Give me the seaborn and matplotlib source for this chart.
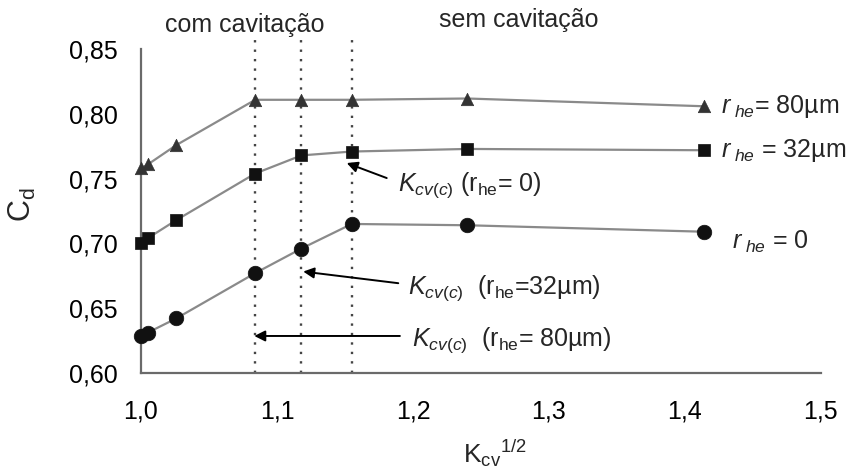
import numpy as np
import pandas as pd
import matplotlib
matplotlib.use("Agg")
import matplotlib.pyplot as plt
import seaborn as sns
from matplotlib.ticker import MultipleLocator, FuncFormatter

# ---- data ----
kcv_sqrt = [1.000, 1.005, 1.026, 1.084, 1.118, 1.155, 1.240, 1.414]
cd_r0 = [0.628, 0.631, 0.642, 0.677, 0.696, 0.715, 0.714, 0.709]
cd_r32 = [0.700, 0.704, 0.718, 0.754, 0.768, 0.771, 0.773, 0.772]
cd_r80 = [0.758, 0.761, 0.776, 0.811, 0.811, 0.811, 0.812, 0.806]
series_names = ["r0", "r32", "r80"]
kcv_crit = [1.084, 1.118, 1.155]

x_ticks = [1.0, 1.1, 1.2, 1.3, 1.4, 1.5]
y_ticks = [0.60, 0.65, 0.70, 0.75, 0.80, 0.85]

df = pd.DataFrame({
    "x": kcv_sqrt * 3,
    "y": cd_r0 + cd_r32 + cd_r80,
    "s": [series_names[0]] * 8 + [series_names[1]] * 8 + [series_names[2]] * 8,
})

sns.set_theme(style="white")
plt.rcParams["font.family"] = ["Liberation Sans", "DejaVu Sans"]
plt.rcParams["mathtext.fontset"] = "custom"
plt.rcParams["mathtext.rm"] = "Liberation Sans"
plt.rcParams["mathtext.it"] = "Liberation Sans:italic"
plt.rcParams["mathtext.bf"] = "Liberation Sans:bold"

fig = plt.figure(figsize=(8.65, 4.70), dpi=100)
ax = fig.add_axes([0.163, 0.207, 0.786, 0.688])

sns.lineplot(data=df, x="x", y="y", hue="s", palette=["#8a8a8a"] * 3,
             legend=False, ax=ax, lw=1.6, sort=True, clip_on=False)
msizes = {"r0": 110, "r32": 75, "r80": 80}
marks = {"r0": "o", "r32": "s", "r80": "^"}
mcols = {"r0": "#111111", "r32": "#111111", "r80": "#333333"}
for name in series_names:
    sub = df[df["s"] == name]
    sns.scatterplot(data=sub, x="x", y="y", marker=marks[name], s=msizes[name],
                    color=mcols[name], edgecolor=mcols[name], linewidth=0.5,
                    legend=False, ax=ax, clip_on=False, zorder=5)

ax.vlines(kcv_crit, 0.60, 0.859, colors="#444444", linestyles=(0, (1, 3)),
          lw=1.7, clip_on=False, zorder=1)

ax.set_xlim(1.0, 1.5)
ax.set_ylim(0.60, 0.85)
ax.set_xticks(x_ticks)
ax.set_yticks(y_ticks)
ax.xaxis.set_minor_locator(MultipleLocator(0.02))
ax.yaxis.set_minor_locator(MultipleLocator(0.025))
ax.xaxis.set_major_formatter(FuncFormatter(lambda v, p: f"{v:.1f}".replace(".", ",")))
ax.yaxis.set_major_formatter(FuncFormatter(lambda v, p: f"{v:.2f}".replace(".", ",")))
ax.tick_params(axis="both", which="major", direction="in", length=8, width=1.3,
               color="#666666", labelsize=18, labelcolor="black")
ax.tick_params(axis="both", which="minor", direction="in", length=4, width=1.2,
               color="#666666")
ax.tick_params(axis="x", which="major", pad=19)
ax.tick_params(axis="y", which="major", pad=17)
for s in ["top", "right"]:
    ax.spines[s].set_visible(False)
for s in ["left", "bottom"]:
    ax.spines[s].set_color("#6a6a6a")
    ax.spines[s].set_linewidth(1.6)

ax.set_xlabel(r"K$_{\mathrm{cv}}$$^{\mathrm{1/2}}$", fontsize=19)
ax.xaxis.set_label_coords(0.52, -0.20)
ax.set_ylabel(r"C$_{\mathrm{d}}$", fontsize=22)
ax.yaxis.set_label_coords(-0.151, 0.52)

fs = 18
ax.text(1.0765, 0.869, "com cavitação", ha="center", va="center", fontsize=fs, clip_on=False)
ax.text(1.278, 0.873, "sem cavitação", ha="center", va="center", fontsize=fs, clip_on=False)

ax.text(1.4268, 0.8057, r"$r_{\ he}$= 80µm", ha="left", va="center", fontsize=fs)
ax.text(1.4268, 0.7716, r"$r_{\ he}$ = 32µm", ha="left", va="center", fontsize=fs)
ax.text(1.4343, 0.7014, r"$r_{\ he}$ = 0", ha="left", va="center", fontsize=fs)

arrowprops = dict(arrowstyle="-|>", color="black", lw=1.4, mutation_scale=16,
                  shrinkA=0, shrinkB=0)
ax.annotate("", xy=(1.1513, 0.7621), xytext=(1.1807, 0.7505), arrowprops=arrowprops)
ax.annotate("", xy=(1.1193, 0.6782), xytext=(1.1892, 0.6692), arrowprops=arrowprops)
ax.annotate("", xy=(1.0833, 0.6284), xytext=(1.1904, 0.6284), arrowprops=arrowprops)
ax.text(1.189, 0.7453, r"$K_{cv(c)}$ (r$_{\mathrm{he}}$= 0)", ha="left", va="center", fontsize=fs)
ax.text(1.1963, 0.6656, r"$K_{cv(c)}$  (r$_{\mathrm{he}}$=32µm)", ha="left", va="center", fontsize=fs)
ax.text(1.1993, 0.6253, r"$K_{cv(c)}$  (r$_{\mathrm{he}}$= 80µm)", ha="left", va="center", fontsize=fs)

fig.savefig("out.png", dpi=100)
